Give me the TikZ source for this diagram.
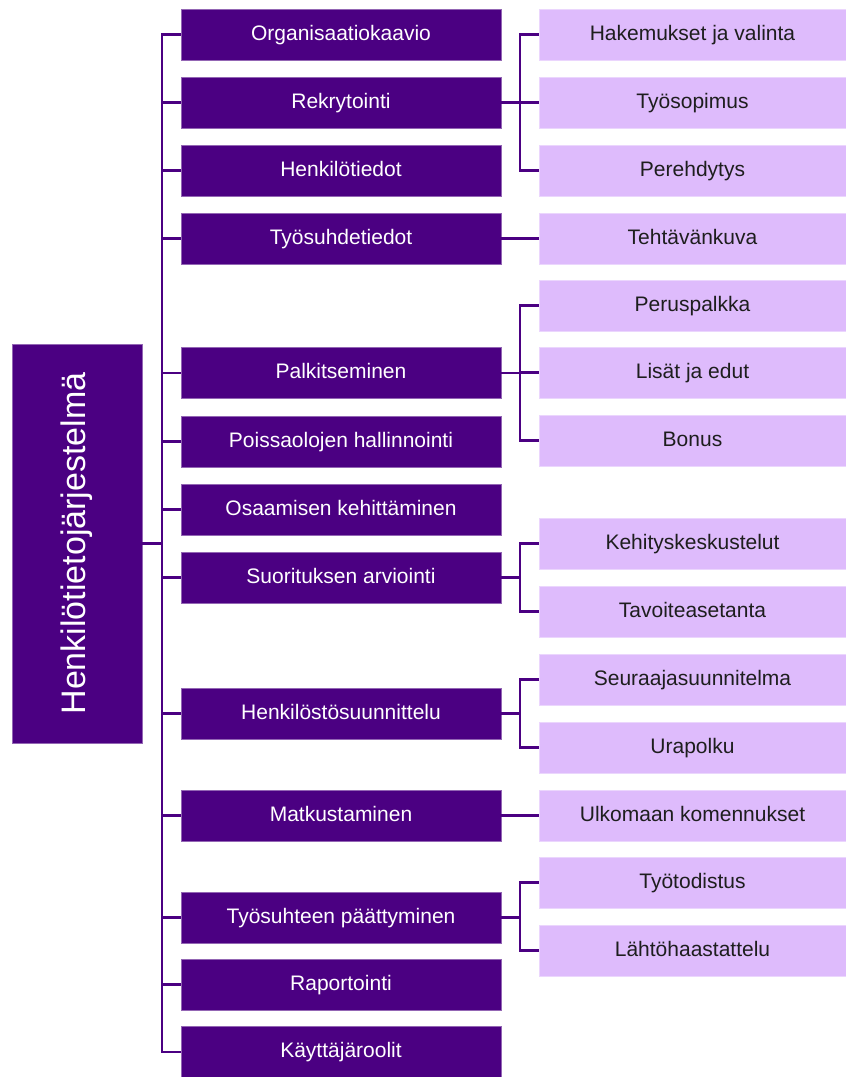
\documentclass[tikz,border=0pt]{standalone}
\usepackage{fontspec}
\setmainfont{Liberation Sans}
\definecolor{dark}{RGB}{75,0,130}
\definecolor{light}{RGB}{222,187,252}
\definecolor{ltext}{RGB}{30,30,30}
\begin{document}
\begin{tikzpicture}[x=1pt,y=-1pt,
  rootbox/.style={fill=dark,draw=dark!60!white,line width=0.5pt,minimum width=130pt,minimum height=399pt,inner sep=0pt,text=white,font=\fontsize{34}{40}\selectfont},
  midbox/.style={fill=dark,draw=dark!60!white,line width=0.5pt,minimum width=320pt,minimum height=51pt,inner sep=0pt,text height=15pt,text depth=4pt,text=white,font=\fontsize{21}{25}\selectfont},
  subbox/.style={fill=light,draw=light!60!white,line width=0.5pt,minimum width=307pt,minimum height=51pt,inner sep=0pt,text height=15pt,text depth=4pt,text=ltext,font=\fontsize{21}{25}\selectfont},
  conn/.style={draw=dark,line width=2.5pt}]
\useasboundingbox (0,0) rectangle (846,1077);
\node[rootbox] (root) at (77,543.5) {\rotatebox{90}{Henkilötietojärjestelmä}};
\coordinate (bus) at (162,0);
\coordinate (rb) at (520,0);
% middle column
\node[midbox] (m1) at (341,34.5) {Organisaatiokaavio};
\node[midbox] (m2) at (341,102.5) {Rekrytointi};
\node[midbox] (m3) at (341,170.5) {Henkilötiedot};
\node[midbox] (m4) at (341,238.5) {Työsuhdetiedot};
\node[midbox] (m5) at (341,373) {Palkitseminen};
\node[midbox] (m6) at (341,441.5) {Poissaolojen hallinnointi};
\node[midbox] (m7) at (341,509.5) {Osaamisen kehittäminen};
\node[midbox] (m8) at (341,577.5) {Suorituksen arviointi};
\node[midbox] (m9) at (341,713.5) {Henkilöstösuunnittelu};
\node[midbox] (m10) at (341,815.5) {Matkustaminen};
\node[midbox] (m11) at (341,917.5) {Työsuhteen päättyminen};
\node[midbox] (m12) at (341,984.5) {Raportointi};
\node[midbox] (m13) at (341,1052) {Käyttäjäroolit};
% right column
\node[subbox] (r1) at (692.5,34.5) {Hakemukset ja valinta};
\node[subbox] (r2) at (692.5,102.5) {Työsopimus};
\node[subbox] (r3) at (692.5,170.5) {Perehdytys};
\node[subbox] (r4) at (692.5,238.5) {Tehtävänkuva};
\node[subbox] (r5) at (692.5,305.5) {Peruspalkka};
\node[subbox] (r6) at (692.5,372.5) {Lisät ja edut};
\node[subbox] (r7) at (692.5,440.5) {Bonus};
\node[subbox] (r8) at (692.5,543.5) {Kehityskeskustelut};
\node[subbox] (r9) at (692.5,611.5) {Tavoiteasetanta};
\node[subbox] (r10) at (692.5,679.5) {Seuraajasuunnitelma};
\node[subbox] (r11) at (692.5,747.5) {Urapolku};
\node[subbox] (r12) at (692.5,815.5) {Ulkomaan komennukset};
\node[subbox] (r13) at (692.5,882.5) {Työtodistus};
\node[subbox] (r14) at (692.5,950.5) {Lähtöhaastattelu};
% main bus
\draw[conn] (root.east) -- (root.east -| bus);
\draw[conn] (m1.west) -- (m1.west -| bus) -- (m13.west -| bus) -- (m13.west);
\foreach \n in {m2,m3,m4,m5,m6,m7,m8,m9,m10,m11,m12}
  \draw[conn] (\n.west) -- (\n.west -| bus);
% right groups
\draw[conn] (m2.east) -- (m2.east -| rb);
\draw[conn] (r1.west) -- (r1.west -| rb) -- (r3.west -| rb) -- (r3.west);
\draw[conn] (r2.west) -- (r2.west -| rb);
\draw[conn] (m4.east) -- (r4.west);
\draw[conn] (m5.east) -- (m5.east -| rb);
\draw[conn] (r5.west) -- (r5.west -| rb) -- (r7.west -| rb) -- (r7.west);
\draw[conn] (r6.west) -- (r6.west -| rb);
\draw[conn] (m8.east) -- (m8.east -| rb);
\draw[conn] (r8.west) -- (r8.west -| rb) -- (r9.west -| rb) -- (r9.west);
\draw[conn] (m9.east) -- (m9.east -| rb);
\draw[conn] (r10.west) -- (r10.west -| rb) -- (r11.west -| rb) -- (r11.west);
\draw[conn] (m10.east) -- (r12.west);
\draw[conn] (m11.east) -- (m11.east -| rb);
\draw[conn] (r13.west) -- (r13.west -| rb) -- (r14.west -| rb) -- (r14.west);
\end{tikzpicture}
\end{document}
